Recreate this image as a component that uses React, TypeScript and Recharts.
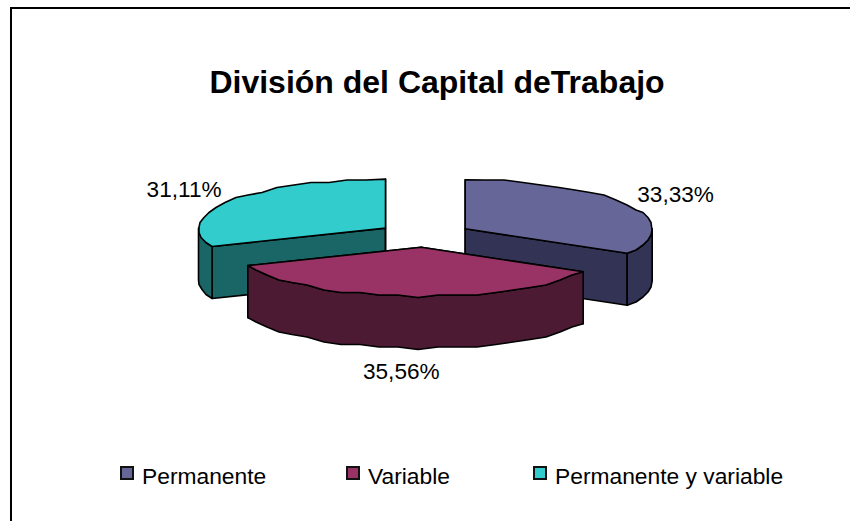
import React from 'react';
import { PieChart, Pie, Cell, Legend } from 'recharts';

const categories = ['Permanente', 'Variable', 'Permanente y variable'];
const shares = [33.33, 35.56, 31.11];
const fills = ['#666699', '#993366', '#33CCCC'];
const walls = ['#333355', '#4D1A33', '#1A6666'];
const legendLeft = [120, 346, 533];
const title = 'División del Capital deTrabajo';

// Slices are painted back to front, so the front (Variable) slice goes last.
const drawOrder = [2, 0, 1];
const rows = drawOrder.map((i) => ({ name: categories[i], value: shares[i], fill: fills[i], wall: walls[i] }));

const FONT = '"Liberation Sans", Arial, sans-serif';
const RX = 187;
const RY = 49;
const DEPTH = 52;
const EXPLODE = 47;
const K = RY / RX;
const rad = (d: number) => (d * Math.PI) / 180;

const rough = (x: number, y: number): [number, number] => [Math.round(x), Math.round(y / 2.5) * 2.5];

function arc(cx: number, cy: number, from: number, to: number) {
  const pts: [number, number][] = [];
  const n = Math.max(1, Math.round(Math.abs(to - from) / 6));
  for (let i = 0; i <= n; i++) {
    const a = rad(from + ((to - from) * i) / n);
    const x = cx + RX * Math.cos(a);
    const y = cy - RY * Math.sin(a);
    pts.push(i === 0 || i === n ? [x, y] : rough(x, y));
  }
  return pts;
}
const path = (pts: [number, number][]) => 'M' + pts.map((p) => p[0].toFixed(1) + ',' + p[1].toFixed(1)).join('L') + 'Z';
const down = (pts: [number, number][]) => pts.map((p) => [p[0], p[1] + DEPTH] as [number, number]).reverse();

function Slice(props: any) {
  const { cx, cy, startAngle, endAngle, fill, payload } = props;
  const wall = payload?.wall ?? props.wall;
  const mid = rad((startAngle + endAngle) / 2);
  const ox = cx + EXPLODE * Math.cos(mid);
  const oy = cy - EXPLODE * K * Math.sin(mid);
  const top = arc(ox, oy, startAngle, endAngle);
  const center: [number, number] = [ox, oy];
  const face = (a: [number, number], b: [number, number]) => [a, b, [b[0], b[1] + DEPTH], [a[0], a[1] + DEPTH]] as [number, number][];
  // front half of the rim: angles between 180 and 360 in math terms
  const hi = Math.max(startAngle, endAngle);
  const lo = Math.min(startAngle, endAngle);
  const ranges: [number, number][] = [];
  for (const k of [-360, 0, 360]) {
    const s = Math.max(lo, 180 + k);
    const e = Math.min(hi, 360 + k);
    if (e > s) ranges.push([s, e]);
  }
  const style = { stroke: '#000', strokeWidth: 1.6, strokeLinejoin: 'round' as const };
  return (
    <g>
      <path d={path(face(center, top[0]))} fill={wall} {...style} />
      <path d={path(face(center, top[top.length - 1]))} fill={wall} {...style} />
      {ranges.map(([s, e]) => {
        const rim = arc(ox, oy, s, e);
        return <path key={s} d={path([...rim, ...down(rim)])} fill={wall} {...style} />;
      })}
      <path d={path([center, ...top])} fill={fill} {...style} />
    </g>
  );
}

function renderLabel(props: any) {
  const { cx, cy, midAngle, value } = props;
  const a = rad(midAngle);
  const s = Math.sin(a);
  const x = cx + 290 * Math.cos(a) - 3 * Math.max(0, -s);
  const y = cy - 81 * s + 56 * Math.max(0, -s);
  return (
    <text x={x} y={y} textAnchor="middle" dominantBaseline="central" fontFamily={FONT} fontSize={22.6} fill="#000">
      {Number(value).toFixed(2).replace('.', ',') + '%'}
    </text>
  );
}

function LegendBox() {
  return (
    <div style={{ position: 'relative', width: 850, height: 40, fontFamily: FONT, fontSize: 22.8, color: '#000' }}>
      {categories.map((c, i) => (
        <div key={c} style={{ position: 'absolute', left: legendLeft[i], top: 0, whiteSpace: 'nowrap', lineHeight: '26px' }}>
          <span style={{ display: 'inline-block', boxSizing: 'border-box', width: 14, height: 14, background: fills[i], border: '2px solid #111', marginRight: 8, verticalAlign: '4px' }} />
          {c}
        </div>
      ))}
    </div>
  );
}

export default function App() {
  const startAngle = 90 + (360 * shares[2]) / 100;
  return (
    <div style={{ position: 'absolute', left: 0, top: 0, width: 850, height: 521, background: '#fff', overflow: 'hidden' }}>
      <div style={{ position: 'absolute', left: 10, top: 7, width: 850, height: 521, borderTop: '2px solid #000', borderLeft: '2px solid #000' }} />
      <PieChart width={850} height={521} margin={{ top: 0, right: 0, bottom: 0, left: 0 }} style={{ position: 'absolute', left: 0, top: 0 }}>
        <text x={437} y={82} textAnchor="middle" dominantBaseline="central" fontFamily={FONT} fontSize={32} fontWeight="bold" fill="#000">
          {title}
        </text>
        <Pie
          data={rows}
          dataKey="value"
          nameKey="name"
          cx={424.5}
          cy={235}
          innerRadius={0}
          outerRadius={RX}
          startAngle={startAngle}
          endAngle={startAngle - 360}
          paddingAngle={0}
          shape={Slice}
          label={renderLabel}
          labelLine={false}
          isAnimationActive={false}
        >
          {rows.map((r) => (
            <Cell key={r.name} fill={r.fill} />
          ))}
        </Pie>
        <Legend content={<LegendBox />} wrapperStyle={{ position: 'absolute', left: 0, top: 463, width: 850 }} />
      </PieChart>
    </div>
  );
}
